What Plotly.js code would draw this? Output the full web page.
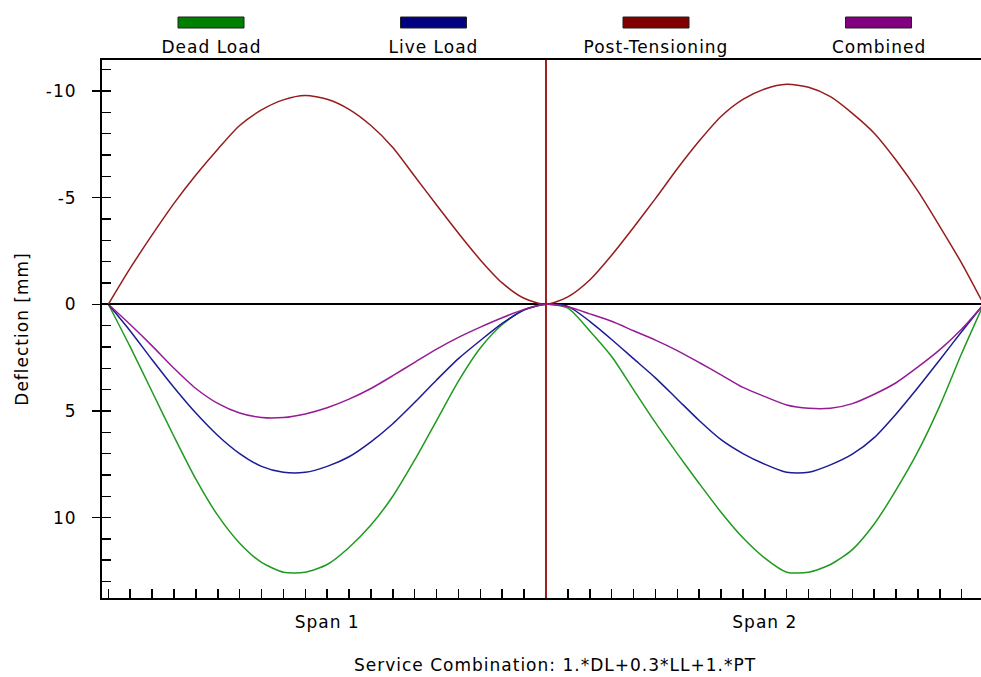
<!DOCTYPE html>
<html>
<head>
<meta charset="utf-8">
<script src="https://cdn.plot.ly/plotly-3.0.1.min.js"></script>
<style>
  html, body { margin: 0; padding: 0; background: #fff; }
  #chart { width: 981px; height: 677px; }
  #chart text { letter-spacing: 1px; }
</style>
</head>
<body>
<div id="chart"></div>
<script>
// Stations along the two-span beam (20 divisions per span)
const stations = [0, 1, 2, 3, 4, 5, 6, 7, 8, 9, 10, 11, 12, 13, 14, 15, 16, 17, 18, 19, 20,
                  21, 22, 23, 24, 25, 26, 27, 28, 29, 30, 31, 32, 33, 34, 35, 36, 37, 38, 39, 40];

// Deflections [mm] (positive = downward)
const deadLoad = [0, 2.0, 4.1, 6.2, 8.2, 9.9, 11.2, 12.1, 12.56, 12.56, 12.2, 11.4, 10.35, 9.0, 7.3, 5.45, 3.6, 2.05, 0.95, 0.25,
                  0, 0.18, 1.25, 2.45, 4.0, 5.55, 7.0, 8.4, 9.75, 10.95, 11.9, 12.56, 12.56, 12.2, 11.5, 10.3, 8.7, 6.9, 4.75, 2.3, 0];
const liveLoad = [0, 1.25, 2.6, 3.9, 5.1, 6.15, 7.0, 7.6, 7.88, 7.88, 7.6, 7.15, 6.45, 5.6, 4.6, 3.55, 2.55, 1.7, 0.9, 0.27,
                  0, 0.1, 0.8, 1.65, 2.55, 3.45, 4.45, 5.45, 6.35, 7.0, 7.5, 7.88, 7.88, 7.53, 7.03, 6.25, 5.14, 3.9, 2.6, 1.28, 0];
const postTensioning = [0, -1.69, -3.25, -4.73, -6.06, -7.27, -8.38, -9.11, -9.58, -9.78, -9.61, -9.14, -8.38, -7.35, -6.0, -4.65, -3.33, -2.08, -1.0, -0.28,
                  0, -0.35, -1.14, -2.3, -3.6, -4.95, -6.35, -7.65, -8.8, -9.6, -10.09, -10.31, -10.17, -9.73, -8.95, -8.02, -6.75, -5.3, -3.64, -1.92, 0];
const combined = [0, 0.95, 1.95, 3.0, 3.95, 4.65, 5.1, 5.31, 5.31, 5.14, 4.85, 4.45, 3.95, 3.35, 2.72, 2.1, 1.55, 1.07, 0.63, 0.24,
                  0, 0.12, 0.45, 0.8, 1.24, 1.68, 2.17, 2.73, 3.31, 3.9, 4.33, 4.72, 4.88, 4.88, 4.66, 4.22, 3.68, 2.94, 2.13, 1.16, 0];

const seriesNames = ['Dead Load', 'Live Load', 'Post-Tensioning', 'Combined'];
const seriesValues = [deadLoad, liveLoad, postTensioning, combined];
const legendColors = ['#008000', '#000080', '#800000', '#800080'];
const lineColors = ['#1f9a1f', '#1c1c96', '#961c1c', '#961c96'];

// Span labels on the x axis and the interior support position
const spanLabelStations = [10, 30];
const spanLabels = ['Span 1', 'Span 2'];
const interiorSupports = [20];

// Y axis ticks
const yMinorTicks = [-11, -10, -9, -8, -7, -6, -5, -4, -3, -2, -1, 0, 1, 2, 3, 4, 5, 6, 7, 8, 9, 10, 11, 12, 13];
const yMajorTicks = [-10, -5, 0, 5, 10];

const chartTitle = 'Service Combination: 1.*DL+0.3*LL+1.*PT';
const yTitle = 'Deflection [mm]';

// ---- layout geometry (pixels) ----
const W = 981, H = 677;
const M = { l: 102, r: 0, t: 60, b: 79 };
const plotW = W - M.l - M.r, plotH = H - M.t - M.b;
const px2paperX = px => (px - M.l) / plotW;
const py2paperY = py => (H - M.b - py) / plotH;

const FONT = { family: 'DejaVu Sans, Verdana, sans-serif', size: 17, color: '#000' };

const traces = seriesNames.map((name, i) => ({
  type: 'scatter',
  mode: 'lines',
  name: name,
  x: stations,
  y: seriesValues[i],
  line: { color: lineColors[i], width: 1.5, shape: 'spline', smoothing: 0.7 },
  hoverinfo: 'x+y+name'
}));
// carrier for the overlay y axis that draws the outer half of the major ticks
traces.push({ type: 'scatter', mode: 'lines', x: [], y: [], yaxis: 'y2', showlegend: false, hoverinfo: 'skip' });

const xTickText = stations.map(s => {
  const k = spanLabelStations.indexOf(s);
  return k >= 0 ? spanLabels[k] : '';
});
const yTickText = yMinorTicks.map(v => (yMajorTicks.indexOf(v) >= 0 ? String(v) : ''));

// custom legend: coloured box with its label underneath
const legendCenterPx = seriesNames.map((_, i) => 211 + 222.5 * i);
const shapes = [];
const annotations = [];
seriesNames.forEach((name, i) => {
  const c = legendCenterPx[i];
  shapes.push({
    type: 'rect', xref: 'paper', yref: 'paper',
    x0: px2paperX(c - 33), x1: px2paperX(c + 33),
    y0: py2paperY(28), y1: py2paperY(17),
    line: { color: '#202020', width: 1 }, fillcolor: legendColors[i]
  });
  annotations.push({
    xref: 'paper', yref: 'paper', x: px2paperX(c), y: py2paperY(47),
    xanchor: 'center', yanchor: 'middle', showarrow: false,
    text: name, font: FONT
  });
});
interiorSupports.forEach(xs => {
  shapes.push({
    type: 'line', xref: 'x', yref: 'paper', x0: xs, x1: xs, y0: 0, y1: 1,
    line: { color: '#a02020', width: 2 }, layer: 'above'
  });
});

const layout = {
  width: W, height: H,
  margin: M,
  paper_bgcolor: '#fff', plot_bgcolor: '#fff',
  font: FONT,
  showlegend: false,
  title: {
    text: chartTitle, font: FONT,
    x: 555 / W, xanchor: 'center', xref: 'container',
    y: 1 - 665 / H, yanchor: 'middle', yref: 'container'
  },
  xaxis: {
    range: [-0.29, 39.88],
    tickmode: 'array', tickvals: stations, ticktext: xTickText,
    ticks: 'inside', ticklen: 9, tickwidth: 1.5, tickcolor: '#000',
    showline: true, linecolor: '#000', linewidth: 2, mirror: true,
    showgrid: false, zeroline: false,
    ticklabelstandoff: 8,
    tickfont: FONT, automargin: false, fixedrange: true
  },
  yaxis: {
    range: [13.77, -11.45],
    tickmode: 'array', tickvals: yMinorTicks, ticktext: yTickText,
    ticks: 'inside', ticklen: 9, tickwidth: 1.5, tickcolor: '#000',
    showline: true, linecolor: '#000', linewidth: 2,
    showgrid: false,
    zeroline: true, zerolinecolor: '#000', zerolinewidth: 2,
    ticklabelstandoff: 20,
    tickfont: FONT, automargin: false, fixedrange: true,
    title: { text: yTitle, font: FONT, standoff: 16 }
  },
  yaxis2: {
    overlaying: 'y', matches: 'y', side: 'left',
    tickmode: 'array', tickvals: yMajorTicks,
    ticks: 'outside', ticklen: 9, tickwidth: 1.5, tickcolor: '#000',
    showticklabels: false, showline: false, showgrid: false, zeroline: false,
    automargin: false, fixedrange: true
  },
  shapes: shapes,
  annotations: annotations
};

Plotly.newPlot('chart', traces, layout, { displayModeBar: false, staticPlot: true });
</script>
</body>
</html>
